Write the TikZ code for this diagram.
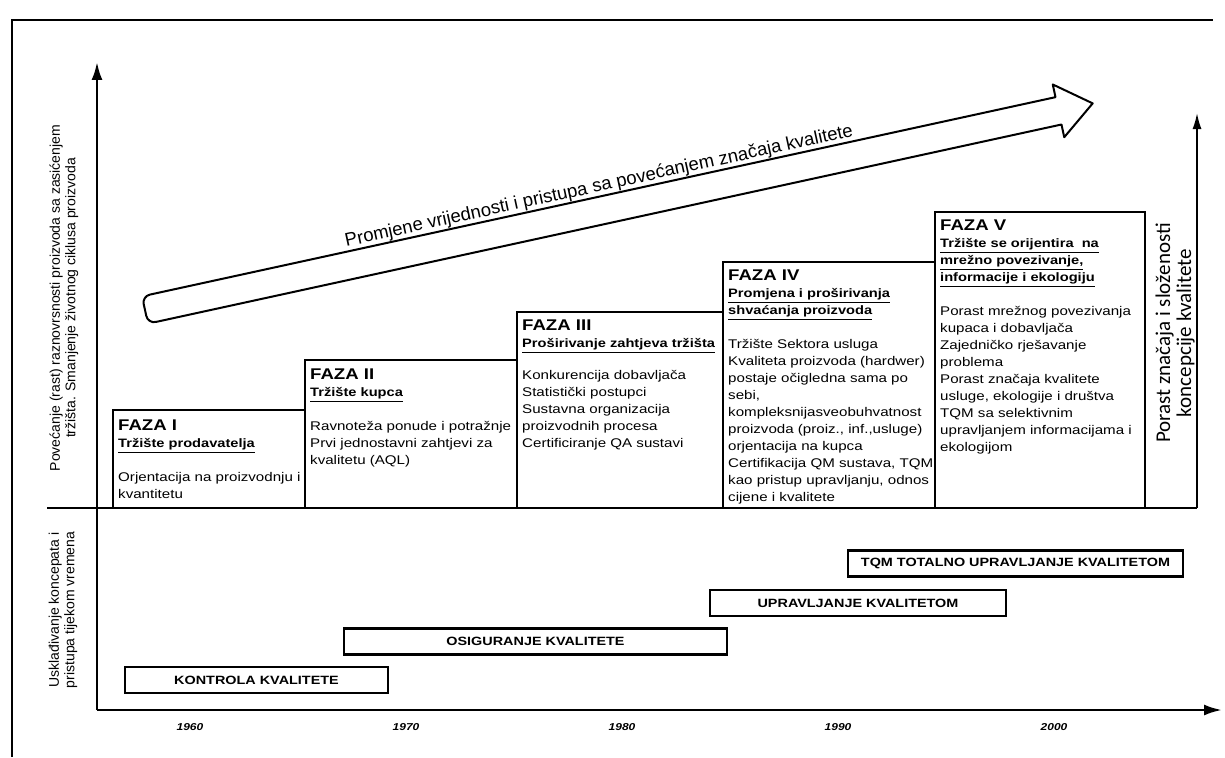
\documentclass[tikz,border=0pt]{standalone}
\usepackage{fontspec}
\setmainfont{Liberation Sans}
\newfontfamily\widefont{Liberation Sans}[FakeStretch=1.2]
\newfontfamily\calfont{Carlito}
\usetikzlibrary{arrows.meta, positioning}
\newcommand{\bodyfont}{\widefont\fontsize{12.6}{17}\selectfont}
\newcommand{\ttl}[1]{{\widefont\bfseries\fontsize{15.5}{17}\selectfont #1}}
\newcommand{\subt}[1]{{\widefont\bfseries\fontsize{12.2}{17}\selectfont\underline{#1}}}
\newcommand{\barfont}{\widefont\bfseries\fontsize{12}{14}\selectfont}
\newcommand{\yearfont}{\widefont\bfseries\itshape\fontsize{10}{12}\selectfont}
\newcommand{\sidefont}{\fontsize{14}{15.5}\selectfont}

\begin{document}
\begin{tikzpicture}[
  x=1pt, y=-1pt,
  frame/.style={line width=1.6pt},
  axis/.style={line width=2.6pt, -{Latex[length=18pt, width=11pt]}},
  raxis/.style={line width=1.8pt, -{Latex[length=16pt, width=9pt]}},
  phase/.style={line width=1.3pt},
  ptxt/.style={anchor=north west, align=left, inner sep=0pt, font=\bodyfont},
  bar/.style={draw, line width=2.2pt, minimum height=26pt, inner sep=0pt, font=\barfont},
  bigarrow/.style={line width=2pt, fill=white, line join=round},
  year/.style={font=\yearfont},
  side/.style={rotate=90, align=center, font=\sidefont}
]
\useasboundingbox (0,0) rectangle (1225,757);

% frame and axes
\draw[frame] (12,757) -- (12,20) -- (1213,20);
\coordinate (o) at (97,710);
\coordinate (ytop) at (97,62);
\coordinate (xend) at (1222,710);
\coordinate (dl) at (47,508);
\coordinate (dr) at (1197,508);
\coordinate (rtop) at (1197,113);
\draw[frame] (dl) -- (dr);
\draw[axis] (o) -- (ytop);
\draw[axis] (o) -- (xend);
\draw[raxis] (dr) -- (rtop);

% side labels
\node[side] (lup) at (64,298) {Povećanje (rast) raznovrsnosti proizvoda sa zasićenjem\\tržišta. Smanjenje životnog ciklusa proizvoda};
\node[side] (llow) at (63,610) {Usklađivanje koncepata i\\pristupa tijekom vremena};
\node[side, font=\calfont\fontsize{21}{21}\selectfont] (lright) at (1175,333) {Porast značaja i složenosti\\koncepcije kvalitete};

% phases
\foreach \l/\t/\r in {113/410/305, 305/360/517, 517/312/723, 723/262/935, 935/212/1145}
  \draw[phase] (\l,508) rectangle (\r,\t);

\node[ptxt] (f1) at (118,420) {\ttl{FAZA I}\\ \subt{Tržište prodavatelja}\\[17pt]
  Orjentacija na proizvodnju i\\ kvantitetu};
\node[ptxt] (f2) at (310,369) {\ttl{FAZA II}\\ \subt{Tržište kupca}\\[17pt]
  Ravnoteža ponude i potražnje\\ Prvi jednostavni zahtjevi za\\ kvalitetu (AQL)};
\node[ptxt] (f3) at (522,320) {\ttl{FAZA III}\\ \subt{Proširivanje zahtjeva tržišta}\\[15pt]
  Konkurencija dobavljača\\ Statistički postupci\\ Sustavna organizacija\\
  proizvodnih procesa\\ Certificiranje QA sustavi};
\node[ptxt] (f4) at (728,270) {\ttl{FAZA IV}\\ \subt{Promjena i proširivanja}\\ \subt{shvaćanja proizvoda}\\[17pt]
  Tržište Sektora usluga\\ Kvaliteta proizvoda (hardwer)\\ postaje očigledna sama po\\ sebi,\\
  kompleksnijasveobuhvatnost\\ proizvoda (proiz., inf.,usluge)\\ orjentacija na kupca\\
  Certifikacija QM sustava, TQM\\ kao pristup upravljanju, odnos\\ cijene i kvalitete};
\node[ptxt] (f5) at (940,220) {\ttl{FAZA V}\\ \subt{Tržište se orijentira\ \ na}\\ \subt{mrežno povezivanje,}\\ \subt{informacije i ekologiju}\\[17pt]
  Porast mrežnog povezivanja\\ kupaca i dobavljača\\ Zajedničko rješavanje\\ problema\\
  Porast značaja kvalitete\\ usluge, ekologije i društva\\ TQM sa selektivnim\\
  upravljanjem informacijama i\\ ekologijom};

% big arrow
\begin{scope}[shift={(145,310)}, rotate=12.3]
  \draw[bigarrow] (8,-14) -- (935,-14) -- (935,-27) -- (970,0) -- (935,27) -- (935,14)
    -- (8,14) arc[start angle=90, end angle=180, radius=8] -- (0,-6)
    arc[start angle=180, end angle=270, radius=8] -- cycle;
  \node[anchor=base, rotate=12.3, inner sep=0pt, font=\fontsize{18.5}{20}\selectfont] (trend) at (470,-19)
    {Promjene vrijednosti i pristupa sa povećanjem značaja kvalitete};
\end{scope}

% concepts over time
\node[bar, minimum width=335pt] (tqm) at (1015.5,563.5) {TQM TOTALNO UPRAVLJANJE KVALITETOM};
\node[bar, minimum width=296pt] (uk) at (858,603) {UPRAVLJANJE KVALITETOM};
\node[bar, minimum width=383pt] (ok) at (535.5,641.5) {OSIGURANJE KVALITETE};
\node[bar, minimum width=263pt] (kk) at (256.5,680) {KONTROLA KVALITETE};

% years
\foreach \yr [count=\i from 0] in {1960,1970,1980,1990,2000}
  \node[year] (y\yr) at (190+216*\i,727) {\yr};
\end{tikzpicture}
\end{document}
